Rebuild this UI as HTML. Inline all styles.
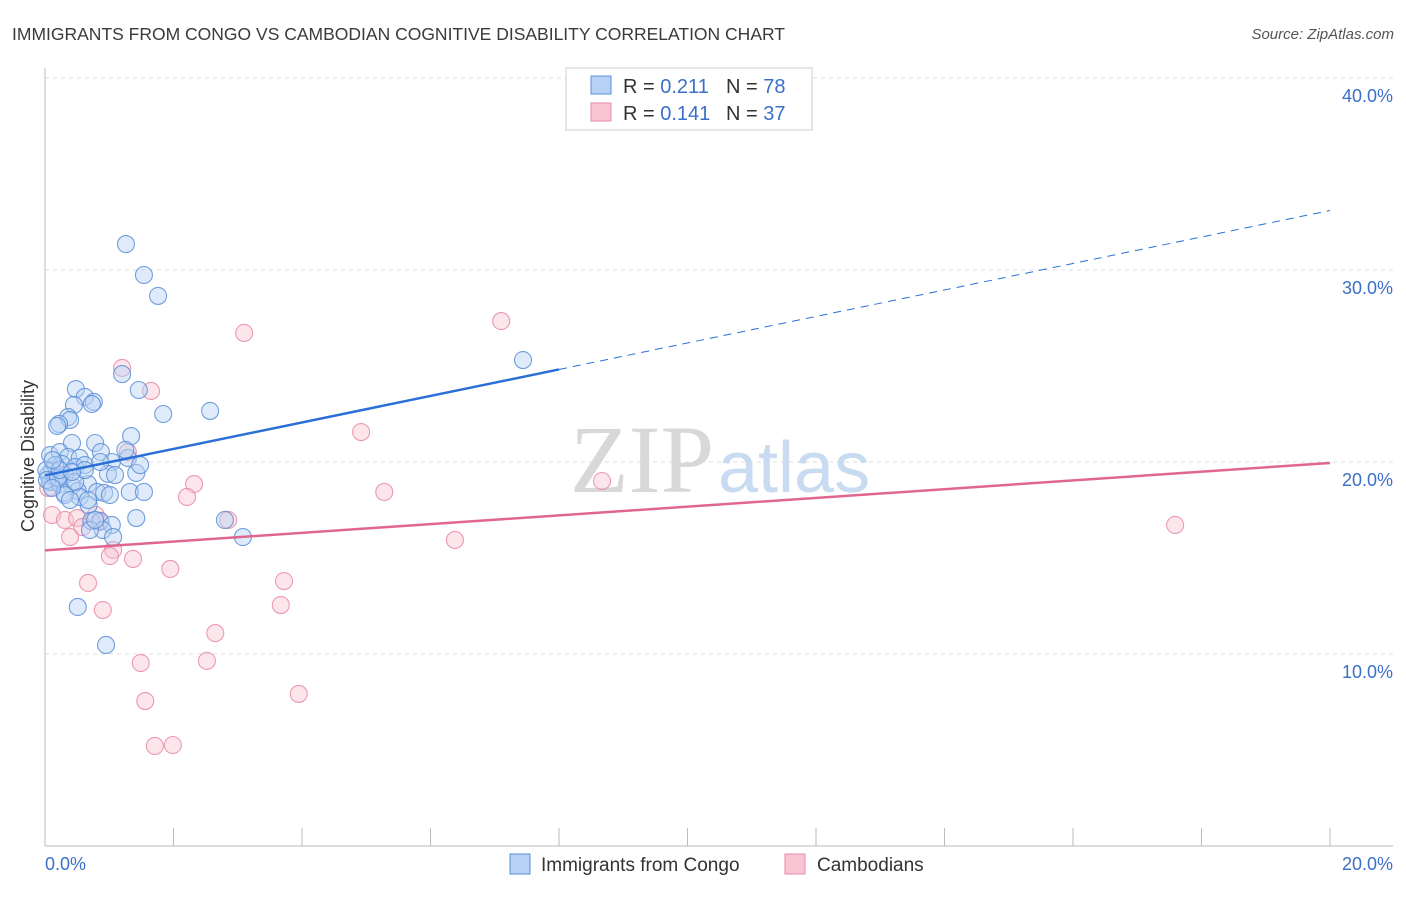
<!DOCTYPE html>
<html><head><meta charset="utf-8"><style>
body{margin:0;background:#fff;font-family:"Liberation Sans",sans-serif}
svg text{font-family:"Liberation Sans",sans-serif}
</style></head><body>
<svg width="1406" height="892">
<text x="12" y="40" font-size="17.5" fill="#3a3a3a">IMMIGRANTS FROM CONGO VS CAMBODIAN COGNITIVE DISABILITY CORRELATION CHART</text>
<text x="1394" y="39" font-size="15" fill="#555" text-anchor="end" font-style="italic">Source: ZipAtlas.com</text>
<g id="grid"></g>
<text x="714" y="492" font-size="96" fill="#d8d8d8" text-anchor="end" style="font-family:'Liberation Serif',serif">ZIP</text>
<text x="718" y="492" font-size="72" fill="#c8dbf1">atlas</text>
<g id="pts"></g>
<g id="lines"></g>
<text x="34" y="456" font-size="18" fill="#333" transform="rotate(-90 34 456)" text-anchor="middle">Cognitive Disability</text>
<text x="45" y="870" font-size="18" fill="#3a70c9">0.0%</text>
<text x="1393" y="870" font-size="18" fill="#3a70c9" text-anchor="end">20.0%</text>
<g>
<rect x="566" y="68" width="246" height="62" fill="#fff" stroke="#ccc"/>
<rect x="591" y="76" width="20" height="18" fill="#b8d2f5" stroke="#5a8ed8"/>
<rect x="591" y="103" width="20" height="18" fill="#f9c5d3" stroke="#e88aa6"/>
<text x="623" y="93" font-size="20" fill="#333">R = <tspan fill="#3a70c9">0.211</tspan></text>
<text x="726" y="93" font-size="20" fill="#333">N = <tspan fill="#3a70c9">78</tspan></text>
<text x="623" y="120" font-size="20" fill="#333">R = <tspan fill="#3a70c9">0.141</tspan></text>
<text x="726" y="120" font-size="20" fill="#333">N = <tspan fill="#3a70c9">37</tspan></text>
</g>
<g>
<rect x="510" y="854" width="20" height="20" fill="#b8d2f5" stroke="#5a8ed8"/>
<text x="541" y="871" font-size="19" fill="#333">Immigrants from Congo</text>
<rect x="785" y="854" width="20" height="20" fill="#f9c5d3" stroke="#e88aa6"/>
<text x="817" y="871" font-size="19" fill="#333">Cambodians</text>
</g>
</svg>
<script>
const yTicks=[10,20,30,40];
const xTicks=[0,2,4,6,8,10,12,14,16,18,20];
const bluePx=[[126,244],[144,275],[158,296],[523,360],[122,374],[139,390],[76,389],[85,397],[94,402],[74,405],[92,404],[163,414],[210,411],[68,417],[70,420],[59,424],[57,426],[131,436],[72,443],[95,443],[50,455],[60,452],[68,457],[80,458],[101,452],[112,462],[128,458],[62,464],[75,467],[85,465],[52,470],[48,475],[55,478],[65,475],[108,474],[136,473],[50,482],[60,484],[72,486],[88,484],[78,491],[64,493],[80,497],[97,492],[104,493],[130,492],[144,492],[89,505],[136,518],[91,521],[100,521],[112,525],[103,530],[113,537],[225,520],[243,537],[78,607],[106,645],[55,465],[46,470],[47,480],[90,530],[95,520],[65,495],[115,475],[100,462],[58,478],[70,500],[75,482],[85,470],[60,470],[53,460],[140,465],[125,450],[88,500],[110,495],[72,472],[52,488]];
const pinkPx=[[501,321],[244,333],[122,368],[151,391],[361,432],[128,452],[194,484],[187,497],[384,492],[602,481],[1175,525],[228,520],[455,540],[52,515],[65,520],[77,518],[96,515],[82,527],[70,537],[113,550],[133,559],[110,556],[170,569],[88,583],[284,581],[281,605],[103,610],[215,633],[141,663],[207,661],[299,694],[145,701],[155,746],[173,745],[48,488],[60,475],[100,522]];
const blueX=bluePx.map(p=>+((p[0]-45)/64.25).toFixed(2));
const blueY=bluePx.map(p=>+((846-p[1])/19.2).toFixed(2));
const pinkX=pinkPx.map(p=>+((p[0]-45)/64.25).toFixed(2));
const pinkY=pinkPx.map(p=>+((846-p[1])/19.2).toFixed(2));
const blueTrend=[19.3,33.1];
const pinkTrend=[15.4,19.95];
const sx=v=>45+v*64.25, sy=v=>846-v*19.2;
const NS='http://www.w3.org/2000/svg';
function mk(t,a,par){const e=document.createElementNS(NS,t);for(const k in a)e.setAttribute(k,a[k]);document.getElementById(par).appendChild(e);return e;}
let ax=mk('line',{x1:45,y1:68,x2:45,y2:846,stroke:'#bbb'},'grid');


let bx=mk('line',{x1:45,y1:846,x2:1393,y2:846,stroke:'#bbb'},'grid');


yTicks.forEach(t=>{
 const g=mk('line',{x1:45,x2:1393,y1:sy(t),y2:sy(t),stroke:'#ddd','stroke-dasharray':'4,4'},'grid');
 
 
 const l=mk('text',{x:1393,y:sy(t)+24,'font-size':18,fill:'#3a70c9','text-anchor':'end'},'grid');
 l.textContent=t.toFixed(1)+'%';
 
 
});
xTicks.forEach(t=>{
 const k=mk('line',{x1:sx(t),x2:sx(t),y1:828,y2:846,stroke:'#bbb'},'grid');
 
 
});
function pts(X,Y,fill,stroke,name){X.forEach((x,i)=>{
 const c=mk('circle',{cx:sx(x),cy:sy(Y[i]),r:8.5,fill:fill,'fill-opacity':0.45,stroke:stroke,'stroke-opacity':0.85,'stroke-width':1.1},'pts');
 
 
});}
pts(pinkX,pinkY,'#f9c5d3','#e88aa6','cambodian-point');
pts(blueX,blueY,'#b8d2f5','#5a8ed8','congo-point');
const bAt=x=>blueTrend[0]+(blueTrend[1]-blueTrend[0])*x/20;
let b1=mk('line',{x1:sx(0),y1:sy(bAt(0)),x2:sx(8),y2:sy(bAt(8)),stroke:'#2a6fd6','stroke-width':2.5},'lines');


let b2=mk('line',{x1:sx(8),y1:sy(bAt(8)),x2:sx(20),y2:sy(bAt(20)),stroke:'#2a6fd6','stroke-width':1,'stroke-dasharray':'8,6'},'lines');


let p1=mk('line',{x1:sx(0),y1:sy(pinkTrend[0]),x2:sx(20),y2:sy(pinkTrend[1]),stroke:'#e0668f','stroke-width':2.5},'lines');


</script>
</body></html>
